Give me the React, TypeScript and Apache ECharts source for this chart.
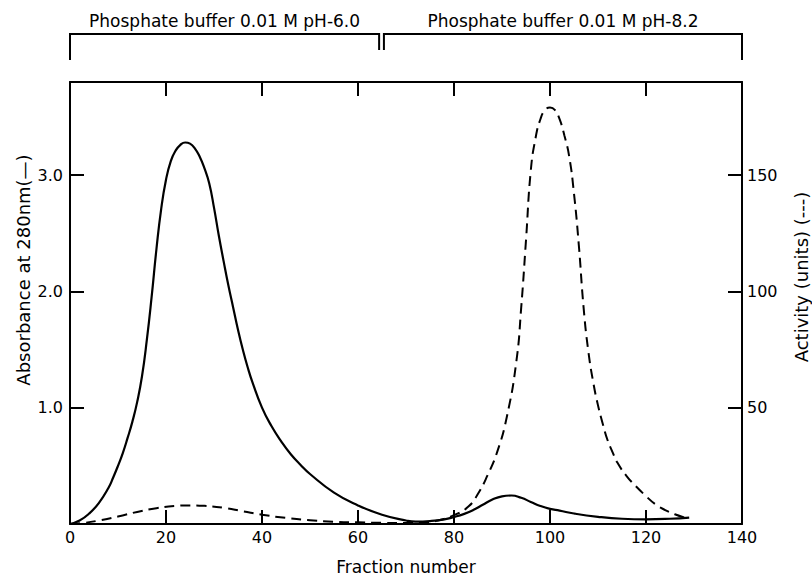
import React, { useEffect, useRef } from "react";
import * as echarts from "echarts";

// Absorbance at 280 nm (solid line, left axis)
const absX = [0, 2, 4, 6, 8, 9, 10, 11, 12, 13, 14, 15, 16, 17, 18, 19, 20, 21, 22, 23, 24, 25, 26, 27, 28, 29, 30, 31, 32, 33, 34, 35, 36, 37, 38, 40, 42, 44, 46, 48, 50, 55, 60, 65, 70, 72, 75, 78, 80, 82, 84, 86, 88, 90, 92, 94, 96, 98, 100, 102, 105, 110, 115, 120, 125, 129];
const absY = [0, 0.03, 0.09, 0.18, 0.31, 0.4, 0.5, 0.61, 0.74, 0.88, 1.05, 1.27, 1.58, 1.95, 2.36, 2.71, 2.96, 3.12, 3.21, 3.26, 3.28, 3.27, 3.23, 3.16, 3.06, 2.93, 2.72, 2.48, 2.26, 2.05, 1.86, 1.67, 1.5, 1.35, 1.22, 1.0, 0.84, 0.71, 0.6, 0.51, 0.43, 0.27, 0.16, 0.08, 0.03, 0.02, 0.025, 0.04, 0.06, 0.085, 0.12, 0.165, 0.21, 0.238, 0.245, 0.225, 0.19, 0.155, 0.13, 0.115, 0.09, 0.062, 0.045, 0.04, 0.045, 0.055];

// Activity (dashed line, right axis)
const actX = [0, 3, 6, 10, 14, 18, 22, 25, 28, 32, 36, 40, 45, 50, 55, 60, 65, 70, 73, 76, 80, 83, 85, 87, 89, 91, 93, 94, 95, 96, 97, 98, 99, 100, 101, 102, 103, 104, 105, 106, 107, 108, 109, 110, 111, 112, 113, 114, 116, 118, 120, 122, 124, 126, 128];
const actY = [0, 0.5, 1.5, 3.2, 5.2, 6.8, 7.8, 8.0, 7.8, 7.0, 5.5, 4.0, 2.6, 1.6, 1.0, 0.7, 0.5, 0.4, 0.5, 1.2, 3.8, 7.5, 13, 21, 31, 46, 70, 93, 122, 152, 166, 174, 178, 179, 178, 174, 167, 158, 142, 120, 93, 74, 61, 51, 43, 36, 31, 26.5, 20.5, 16, 12, 8.4, 6, 4.2, 2.8];

const leftTickLabels = ["1.0", "2.0", "3.0"];
const rightTickLabels = ["50", "100", "150"];

// Buffer bracket ranges (fraction number) and labels
const bufferLabels = ["Phosphate buffer 0.01 M pH-6.0", "Phosphate buffer 0.01 M pH-8.2"];
const bufferStart = [0, 65.4];
const bufferEnd = [64.4, 140];

const leftTitle = "Absorbance at 280nm(—)";
const rightTitle = "Activity (units) (---)";
const xTitle = "Fraction number";

const FONT = "DejaVu Sans";

export default function App() {
  const ref = useRef<HTMLDivElement>(null);
  useEffect(() => {
    if (!ref.current) return;
    const chart = echarts.init(ref.current, undefined, { renderer: "svg" });
    const absData = absX.map((x, i) => [x, absY[i]]);
    const actData = actX.map((x, i) => [x, actY[i]]);
    const axisLine = { show: true, onZero: false, lineStyle: { color: "#000", width: 2 } };
    const tick = { show: true, inside: true, length: 14, lineStyle: { color: "#000", width: 2 } };
    const labelStyle = { color: "#000", fontFamily: FONT, fontSize: 16 };
    chart.setOption({
      animation: false,
      backgroundColor: "#fff",
      grid: { left: 70, right: 70, top: 82, bottom: 52, containLabel: false },
      xAxis: [
        {
          type: "value", min: 0, max: 140, interval: 20, position: "bottom",
          axisLine, axisTick: tick, splitLine: { show: false },
          axisLabel: { ...labelStyle, margin: 5 },
          name: xTitle, nameLocation: "middle", nameGap: 34,
          nameTextStyle: { color: "#000", fontFamily: FONT, fontSize: 17 },
        },
        {
          type: "value", min: 0, max: 140, interval: 20, position: "top",
          axisLine, axisTick: tick, splitLine: { show: false }, axisLabel: { show: false },
        },
      ],
      yAxis: [
        {
          type: "value", min: 0, max: 3.8, interval: 1, position: "left",
          axisLine, axisTick: tick, splitLine: { show: false },
          axisLabel: {
            ...labelStyle, margin: 7,
            formatter: (v: number) => {
              const s = v.toFixed(1);
              return leftTickLabels.includes(s) ? s : "";
            },
          },
        },
        {
          type: "value", min: 0, max: 190, interval: 50, position: "right",
          axisLine, axisTick: tick, splitLine: { show: false },
          axisLabel: {
            ...labelStyle, margin: 5,
            formatter: (v: number) => (rightTickLabels.includes(String(v)) ? String(v) : ""),
          },
        },
      ],
      series: [
        {
          type: "line", name: "Absorbance", data: absData, xAxisIndex: 0, yAxisIndex: 0,
          smooth: 0.5, showSymbol: false, lineStyle: { color: "#000", width: 2.2 },
        },
        {
          type: "line", name: "Activity", data: actData, xAxisIndex: 0, yAxisIndex: 1,
          smooth: 0.5, showSymbol: false, lineStyle: { color: "#000", width: 2, type: [10, 6] },
        },
      ],
    });

    const bracketTop = 34;
    const bracketOuter = 60;
    const bracketInner = 50;
    const textY = 21;
    const graphics: any[] = [];
    bufferLabels.forEach((label, i) => {
      const x0 = chart.convertToPixel({ xAxisIndex: 0 }, bufferStart[i]) as number;
      const x1 = chart.convertToPixel({ xAxisIndex: 0 }, bufferEnd[i]) as number;
      const y0 = i === 0 ? bracketOuter : bracketInner;
      const y1 = i === 0 ? bracketInner : bracketOuter;
      graphics.push({
        type: "polyline",
        shape: { points: [[x0, y0], [x0, bracketTop], [x1, bracketTop], [x1, y1]] },
        style: { stroke: "#000", lineWidth: 2, fill: "none" },
      });
      graphics.push({
        type: "text",
        x: (x0 + x1) / 2,
        y: textY,
        style: { text: label, fill: "#000", font: `17px '${FONT}'`, textAlign: "center", textVerticalAlign: "middle" },
      });
    });
    graphics.push({
      type: "text", x: 23, y: 270, rotation: Math.PI / 2,
      style: { text: leftTitle, fill: "#000", font: `18px '${FONT}'`, textAlign: "center", textVerticalAlign: "middle" },
    });
    graphics.push({
      type: "text", x: 801, y: 277, rotation: Math.PI / 2,
      style: { text: rightTitle, fill: "#000", font: `18px '${FONT}'`, textAlign: "center", textVerticalAlign: "middle" },
    });
    chart.setOption({ graphic: graphics });

    return () => chart.dispose();
  }, []);
  return <div ref={ref} style={{ position: "fixed", left: 0, top: 0, width: 812, height: 580 }} />;
}
